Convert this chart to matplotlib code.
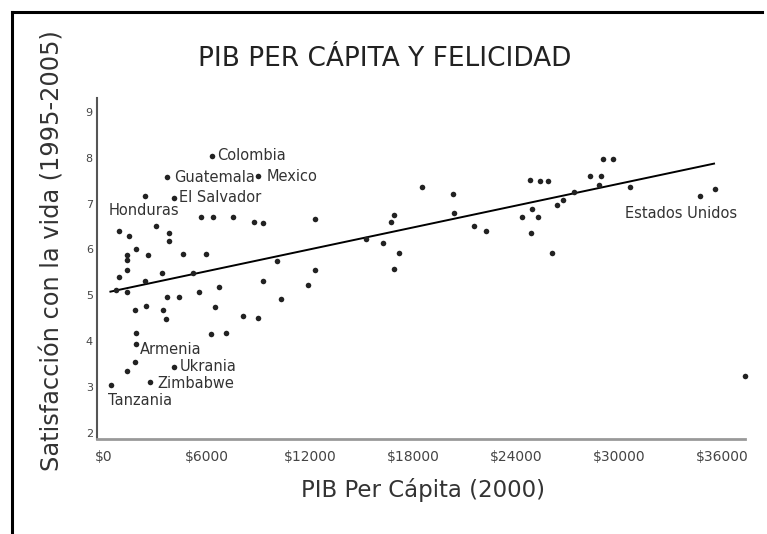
import matplotlib
matplotlib.use("Agg")
import matplotlib.pyplot as plt
from matplotlib.lines import Line2D

# unlabelled countries: PIB per capita (USD 2000) and satisfaction
gdp = [6340, 7500, 8760, 9280, 12280, 920, 1500, 3050, 3820, 3820,
       1890, 2600, 1380, 1380, 1350, 4630, 5950, 900, 3380, 2410,
       5180, 9250, 10060, 12280, 11860, 730, 1380, 5560, 6690, 3710,
       4370, 10310, 1830, 2450, 3440, 3630, 6460, 8120, 8960, 1890,
       6240, 7110, 1830, 1380, 5660,
       15240, 16250, 17160, 16870, 16700, 16890, 18510, 20310, 20370, 21570,
       22250, 24770, 25390, 25830, 24320, 24930, 25290, 24830, 26090, 26350,
       26700, 27340, 28310, 28930, 28830, 29070, 29610, 30630, 34700, 37290]
sat = [6.71, 6.70, 6.60, 6.57, 6.66, 6.41, 6.30, 6.51, 6.35, 6.19,
       6.00, 5.88, 5.88, 5.77, 5.55, 5.89, 5.89, 5.39, 5.49, 5.32,
       5.48, 5.32, 5.75, 5.55, 5.22, 5.12, 5.08, 5.08, 5.19, 4.96,
       4.96, 4.91, 4.68, 4.77, 4.69, 4.48, 4.75, 4.55, 4.51, 4.17,
       4.16, 4.17, 3.55, 3.35, 6.71,
       6.23, 6.13, 5.92, 5.57, 6.60, 6.75, 7.35, 7.21, 6.79, 6.51,
       6.40, 7.51, 7.49, 7.49, 6.70, 6.88, 6.70, 6.36, 5.93, 6.97,
       7.08, 7.26, 7.60, 7.60, 7.41, 7.97, 7.98, 7.37, 7.16, 3.24]

# labelled countries
names = ["Colombia", "Guatemala", "Mexico", "El Salvador", "Honduras",
         "Armenia", "Ukrania", "Zimbabwe", "Tanzania", "Estados Unidos"]
names_gdp = [6280, 3710, 8990, 4110, 2410, 1890, 4090, 2700, 420, 35550]
names_sat = [8.04, 7.57, 7.60, 7.13, 7.16, 3.93, 3.44, 3.11, 3.05, 7.32]

# trend line end points
trend_gdp = [400, 35500]
trend_sat = [5.08, 7.87]

xticks = [0, 6000, 12000, 18000, 24000, 30000, 36000]
xtick_labels = ["$0", "$6000", "$12000", "$18000", "$24000", "$30000", "$36000"]
yticks = [2, 3, 4, 5, 6, 7, 8, 9]

fig = plt.figure(figsize=(7.67, 5.34), dpi=100)
ax = fig.add_axes([0.1265, 0.178, 0.8448, 0.6385])

ax.scatter(gdp + names_gdp, sat + names_sat, s=16, color="#222222",
           marker="o", linewidths=0, clip_on=False, zorder=3)
ax.plot(trend_gdp, trend_sat, color="black", lw=1.4, zorder=2)

# label offsets in pixels: (dx, dy, ha)
offsets = [(6, 0, "left"), (7, 0, "left"), (8, 0, "left"), (5, 0, "left"),
           (-36, -14, "left"), (4, -5, "left"), (6, 0, "left"), (7, -1, "left"),
           (-3, -16, "left"), (-34, -25, "center")]
for name, x, y, (dx, dy, ha) in zip(names, names_gdp, names_sat, offsets):
    ax.annotate(name, (x, y), xytext=(dx, dy), textcoords="offset pixels",
                ha=ha, va="center", fontsize=10.5, color="#333333")

ax.set_xlim(-380, 37300)
ax.set_ylim(1.87, 9.3)
ax.set_xticks(xticks)
ax.set_xticklabels(xtick_labels)
ax.set_yticks(yticks)
ax.tick_params(axis="both", length=0, colors="#444444")
ax.tick_params(axis="x", labelsize=10, pad=8)
ax.tick_params(axis="y", labelsize=8, pad=3)

for s in ["top", "right"]:
    ax.spines[s].set_visible(False)
ax.spines["left"].set_color("#555555")
ax.spines["bottom"].set_color("#999999")
ax.spines["left"].set_linewidth(1.5)
ax.spines["bottom"].set_linewidth(2)

fig.text(0.501, 0.89, "PIB PER CÁPITA Y FELICIDAD", ha="center", va="center",
         fontsize=19, color="#222222")
fig.text(0.0678, 0.53, "Satisfacción con la vida (1995-2005)", rotation=90,
         ha="center", va="center", fontsize=17.3, color="#333333")
fig.text(0.552, 0.082, "PIB Per Cápita (2000)", ha="center", va="center",
         fontsize=16.5, color="#333333")

# frame lines of the page
top = 1 - 11.5 / 534
left = 11.5 / 767
fig.add_artist(Line2D([left, 762 / 767], [top, top], color="black", lw=2.2))
fig.add_artist(Line2D([left, left], [0, top], color="black", lw=2.2))

fig.savefig("out.png", dpi=100, facecolor="white")
